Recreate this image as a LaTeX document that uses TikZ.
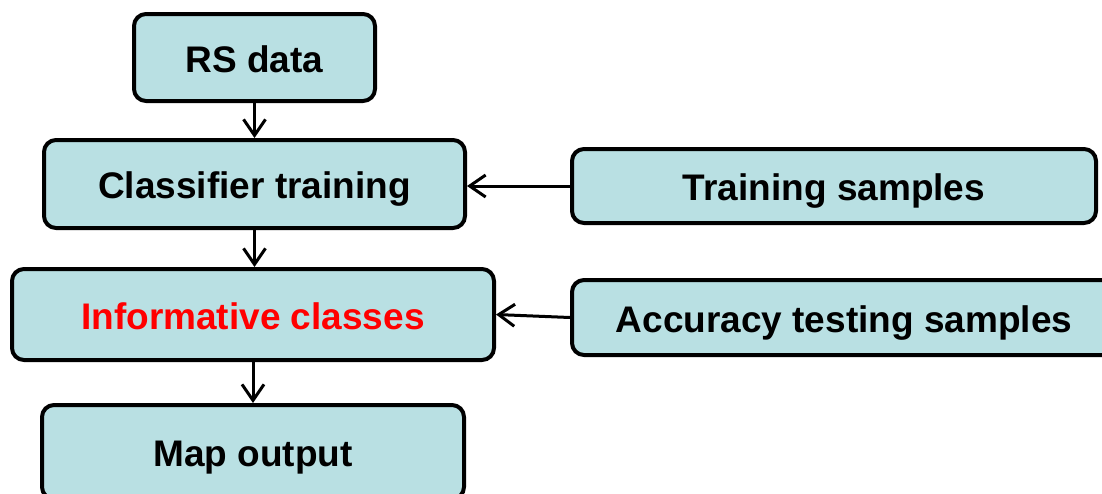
\documentclass[tikz,border=0pt]{standalone}
\usepackage{fontspec}
\setmainfont{Liberation Sans}
\usetikzlibrary{arrows.meta}
\definecolor{boxfill}{RGB}{185,224,227}
\begin{document}
\begin{tikzpicture}[x=1pt,y=-1pt,
  box/.style={draw=black,line width=4pt,fill=boxfill,rounded corners=12pt,inner sep=0pt,
    font=\fontsize{37}{40}\selectfont\bfseries,text height=29pt,text depth=0pt},
  conn/.style={line width=3pt,-{Straight Barb[length=16pt,width=22pt,line width=3pt]}}]
\useasboundingbox (0,0) rectangle (1102,493);
\clip (0,0) rectangle (1102,493);
\fill[white] (0,0) rectangle (1102,493);
\node[box,minimum width=241pt,minimum height=87pt] (rs) at (254.5,57.5) {RS data};
\node[box,minimum width=421pt,minimum height=88pt] (cls) at (254.5,184) {Classifier training};
\node[box,minimum width=524pt,minimum height=74pt] (train) at (834,186) {Training samples};
\node[box,minimum width=482pt,minimum height=91pt,text=red] (info) at (253,314.5) {Informative classes};
\node[box,minimum width=544pt,minimum height=75pt] (acc) at (844,317.5) {Accuracy testing samples};
\node[box,minimum width=422pt,minimum height=94pt] (map) at (253,452) {Map output};
\draw[conn] (rs.south) -- (rs.south |- cls.north);
\draw[conn] (cls.south) -- (cls.south |- info.north);
\draw[conn] (info.south) -- (info.south |- map.north);
\draw[conn] (train.west) -- (train.west -| cls.east);
\draw[conn] (acc.west) -- (info.east);
\end{tikzpicture}
\end{document}
